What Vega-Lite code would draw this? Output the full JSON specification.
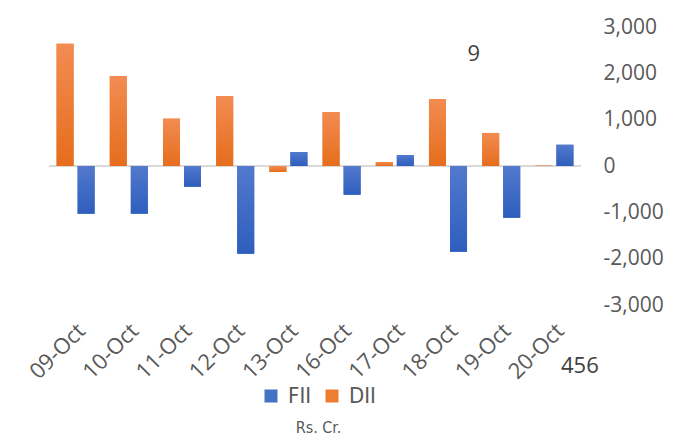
{
  "$schema": "https://vega.github.io/schema/vega-lite/v6.json",
  "width": 532,
  "height": 278,
  "autosize": {"type": "none"},
  "padding": {"left": 49, "top": 27, "right": 110, "bottom": 131},
  "background": "white",
  "config": {"view": {"stroke": null}, "font": "Open Sans"},
  "data": {
    "values": [
      {"date": "09-Oct", "series": "DII", "value": 2640},
      {"date": "09-Oct", "series": "FII", "value": -1030},
      {"date": "10-Oct", "series": "DII", "value": 1944},
      {"date": "10-Oct", "series": "FII", "value": -1030},
      {"date": "11-Oct", "series": "DII", "value": 1022},
      {"date": "11-Oct", "series": "FII", "value": -447},
      {"date": "12-Oct", "series": "DII", "value": 1512},
      {"date": "12-Oct", "series": "FII", "value": -1894},
      {"date": "13-Oct", "series": "DII", "value": -130},
      {"date": "13-Oct", "series": "FII", "value": 302},
      {"date": "16-Oct", "series": "DII", "value": 1166},
      {"date": "16-Oct", "series": "FII", "value": -620},
      {"date": "17-Oct", "series": "DII", "value": 86},
      {"date": "17-Oct", "series": "FII", "value": 238},
      {"date": "18-Oct", "series": "DII", "value": 1447},
      {"date": "18-Oct", "series": "FII", "value": -1851},
      {"date": "19-Oct", "series": "DII", "value": 713},
      {"date": "19-Oct", "series": "FII", "value": -1117},
      {"date": "20-Oct", "series": "DII", "value": 9},
      {"date": "20-Oct", "series": "FII", "value": 456}
    ]
  },
  "encoding": {
    "x": {
      "field": "date",
      "type": "nominal",
      "sort": null,
      "scale": {"paddingInner": 0, "paddingOuter": 0},
      "axis": {
        "domain": false,
        "ticks": false,
        "labelAngle": -45,
        "labelAlign": "right",
        "labelBaseline": "middle",
        "labelPadding": 22,
        "labelOffset": 6,
        "labelFontSize": 22,
        "labelColor": "#595959",
        "labelFont": "Open Sans",
        "title": "Rs. Cr.",
        "titleX": 269,
        "titleY": 127,
        "titleBaseline": "alphabetic",
        "titleFontSize": 16,
        "titleFontWeight": "normal",
        "titleColor": "#595959",
        "titleFont": "Liberation Sans Narrow, DejaVu Sans Condensed, sans-serif"
      }
    },
    "xOffset": {
      "field": "series",
      "type": "nominal",
      "sort": ["DII", "FII"],
      "scale": {"paddingInner": 0.19, "paddingOuter": 0.36}
    },
    "y": {
      "field": "value",
      "type": "quantitative",
      "scale": {"domain": [-3000, 3000], "nice": false},
      "axis": {
        "orient": "right",
        "domain": false,
        "ticks": false,
        "grid": false,
        "values": [-3000, -2000, -1000, 0, 1000, 2000, 3000],
        "labelExpr": "(datum.value < 0 ? '-' : '') + format(abs(datum.value), ',')",
        "labelPadding": 22,
        "labelAlign": "left",
        "labelFontSize": 21,
        "labelColor": "#595959",
        "labelFont": "Open Sans",
        "title": null
      }
    }
  },
  "layer": [
    {
      "mark": {"type": "rule", "color": "#D9D9D9", "strokeWidth": 2},
      "encoding": {"x": null, "xOffset": null, "y": {"datum": 0, "type": "quantitative"}}
    },
    {
      "mark": {"type": "bar"},
      "encoding": {
        "color": {
          "field": "series",
          "type": "nominal",
          "scale": {"domain": ["FII", "DII"], "range": ["#4472C4", "#ED7D31"]},
          "legend": {
            "orient": "none",
            "legendX": 211,
            "legendY": 358,
            "direction": "horizontal",
            "title": null,
            "symbolType": "square",
            "symbolSize": 169,
            "symbolStrokeWidth": 0,
            "labelFontSize": 22,
            "labelOffset": 6,
            "labelColor": "#595959",
            "labelFont": "Liberation Sans Narrow, DejaVu Sans Condensed, sans-serif",
            "columnPadding": 9
          }
        }
      }
    },
    {
      "transform": [{"filter": "datum.series == 'DII'"}],
      "mark": {
        "type": "bar",
        "color": {"gradient": "linear", "x1": 0, "y1": 0, "x2": 0, "y2": 1,
          "stops": [{"offset": 0, "color": "#F28C52"}, {"offset": 1, "color": "#E66D1C"}]}
      },
      "encoding": {}
    },
    {
      "transform": [{"filter": "datum.series == 'FII'"}],
      "mark": {
        "type": "bar",
        "color": {"gradient": "linear", "x1": 0, "y1": 0, "x2": 0, "y2": 1,
          "stops": [{"offset": 0, "color": "#5279CD"}, {"offset": 1, "color": "#2E5EBD"}]}
      },
      "encoding": {}
    },
    {
      "transform": [{"filter": "datum.date == '20-Oct' && datum.series == 'DII'"}],
      "mark": {"type": "text", "dx": -70, "dy": -112, "align": "center", "baseline": "middle", "fontSize": 22, "color": "#404040", "font": "Open Sans"},
      "encoding": {
        "text": {"field": "value", "type": "quantitative"}
      }
    },
    {
      "transform": [{"filter": "datum.date == '20-Oct' && datum.series == 'FII'"}],
      "mark": {"type": "text", "dx": 15, "dy": 221, "align": "center", "baseline": "middle", "fontSize": 22, "color": "#404040", "font": "Open Sans"},
      "encoding": {
        "text": {"field": "value", "type": "quantitative"}
      }
    }
  ]
}
